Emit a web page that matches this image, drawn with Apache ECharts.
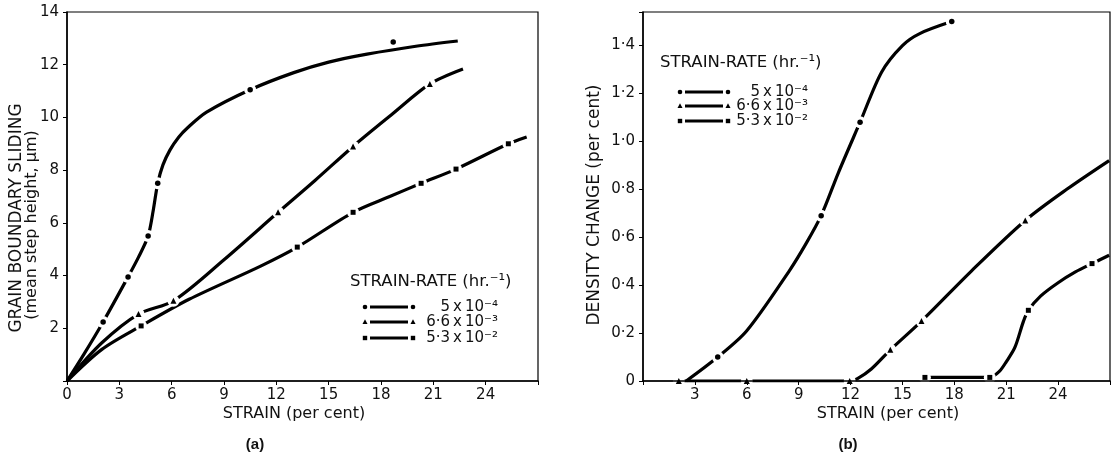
<!DOCTYPE html>
<html>
<head>
<meta charset="utf-8">
<script src="https://cdn.jsdelivr.net/npm/echarts@6/dist/echarts.min.js"></script>
<style>
  html, body { margin: 0; padding: 0; background: #fff; }
  #main { width: 1113px; height: 457px; }
</style>
</head>
<body>
<div id="main"></div>
<script>
// strain-rate labels (legend) and marker kinds
var rateLabels = ['5\u2009x\u200910⁻⁴', '6·6\u2009x\u200910⁻³', '5·3\u2009x\u200910⁻²'];
var rateSymbols = ['circle', 'triangle', 'rect'];

// x ticks (strain, per cent)
var strainTicks = [0, 3, 6, 9, 12, 15, 18, 21, 24];

// (a) grain boundary sliding - drawn curves and measured points
var slideCurve1 = [[0, 0], [1, 1.05], [2.07, 2.24], [3.5, 3.95], [4.1, 4.7], [4.65, 5.5], [4.95, 6.5], [5.2, 7.5], [5.5, 8.2], [5.9, 8.76], [6.4, 9.25], [6.9, 9.6], [8, 10.2], [10.5, 11.05], [13, 11.7], [15, 12.1], [17.2, 12.4], [20, 12.7], [22.4, 12.9]];
var slideDots1 = [[2.07, 2.24], [3.5, 3.95], [4.65, 5.5], [5.2, 7.5], [10.5, 11.05], [18.7, 12.86]];
var slideCurve2 = [[0, 0], [2, 1.45], [4.1, 2.54], [6.1, 3.04], [9, 4.6], [12.1, 6.4], [14.2, 7.6], [16.4, 8.9], [18.6, 10.1], [20.8, 11.27], [22.7, 11.84]];
var slideDots2 = [[4.1, 2.54], [6.1, 3.04], [12.1, 6.4], [16.4, 8.9], [20.8, 11.27]];
var slideCurve3 = [[0, 0], [2, 1.2], [4.25, 2.09], [7, 3.1], [11.1, 4.36], [13.2, 5.08], [16.4, 6.4], [18.5, 7.0], [20.3, 7.5], [22.3, 8.04], [25.3, 9.0], [26.35, 9.26]];
var slideDots3 = [[4.25, 2.09], [13.2, 5.08], [16.4, 6.4], [20.3, 7.5], [22.3, 8.04], [25.3, 9.0]];

// (b) density change
var densCurve1 = [[2.5, 0], [4.32, 0.1], [6, 0.21], [8.46, 0.46], [9.4, 0.57], [10.3, 0.69], [11.3, 0.87], [12.55, 1.08], [13.8, 1.29], [15, 1.4], [16, 1.45], [17.85, 1.5]];
var densDots1 = [[4.32, 0.1], [10.3, 0.69], [12.55, 1.08], [17.85, 1.5]];
var densCurve2 = [[2.07, 0], [6, 0], [11.95, 0], [12.4, 0.01], [13.2, 0.05], [14.3, 0.13], [16.1, 0.25], [19, 0.46], [22.1, 0.67], [24.5, 0.8], [26.95, 0.92]];
var densDots2 = [[2.07, 0], [6, 0], [11.95, 0], [14.3, 0.13], [16.1, 0.25], [22.1, 0.67]];
var densCurve3 = [[16.3, 0.015], [20.05, 0.015], [20.6, 0.04], [21, 0.08], [21.5, 0.14], [22, 0.25], [22.28, 0.295], [23, 0.355], [24, 0.41], [25, 0.455], [25.96, 0.49], [26.95, 0.525]];
var densDots3 = [[16.3, 0.015], [20.05, 0.015], [22.28, 0.295], [25.96, 0.49]];

var FONT = '"DejaVu Sans", sans-serif';
var INK = '#111';

function xAxisOf(idx, hideZero) {
    return {
        gridIndex: idx, type: 'value', min: 0, max: 27, interval: 3, z: 5,
        axisLine: { show: true, lineStyle: { color: '#000', width: 1.5 } },
        axisTick: { show: true, length: 4, lineStyle: { color: '#000' } },
        splitLine: { show: false },
        axisLabel: {
            color: INK, fontFamily: FONT, fontSize: 15, margin: 7,
            formatter: function (v) {
                if (strainTicks.indexOf(v) < 0) return '';
                if (hideZero && v === 0) return '';
                return String(v);
            }
        }
    };
}

function lineSeries(data, xi) {
    return {
        type: 'line', xAxisIndex: xi, yAxisIndex: xi, data: data,
        smooth: 0.3, showSymbol: false, silent: true, z: 2,
        lineStyle: { color: '#000', width: 3.2 }
    };
}
// white halo under each marker gives the break in the line
function haloSeries(data, xi) {
    return {
        type: 'scatter', xAxisIndex: xi, yAxisIndex: xi, data: data,
        symbol: 'circle', symbolSize: 12, silent: true, z: 3,
        itemStyle: { color: '#fff', opacity: 1 }
    };
}
function dotSeries(data, xi, sym) {
    return {
        type: 'scatter', xAxisIndex: xi, yAxisIndex: xi, data: data,
        symbol: sym, symbolSize: sym === 'triangle' ? 6 : (sym === 'rect' ? 5 : 5.5), silent: true, z: 4,
        itemStyle: { color: '#000', opacity: 1 }
    };
}

function marker(kind, cx, cy) {
    if (kind === 'circle') return { type: 'circle', shape: { cx: cx, cy: cy, r: 2.3 }, style: { fill: '#000' } };
    if (kind === 'rect') return { type: 'rect', shape: { x: cx - 2.2, y: cy - 2.2, width: 4.4, height: 4.4 }, style: { fill: '#000' } };
    return { type: 'polygon', shape: { points: [[cx, cy - 2.7], [cx - 2.5, cy + 1.9], [cx + 2.5, cy + 1.9]] }, style: { fill: '#000' } };
}

// legend drawn as graphic: title + three rows
function legendBlock(x0, y0, rowOff, mk1, mk2, textRight) {
    var els = [{
        type: 'text', x: x0, y: y0,
        style: { text: 'STRAIN-RATE (hr.⁻¹)', fill: INK, font: '16.5px ' + FONT, textAlign: 'left', textVerticalAlign: 'middle' }
    }];
    for (var i = 0; i < rateLabels.length; i++) {
        var y = y0 + rowOff[i];
        els.push(marker(rateSymbols[i], x0 + mk1, y));
        els.push(marker(rateSymbols[i], x0 + mk2, y));
        els.push({ type: 'line', shape: { x1: x0 + mk1 + 5, y1: y, x2: x0 + mk2 - 5, y2: y }, style: { stroke: '#000', lineWidth: 3 } });
        els.push({
            type: 'text', x: x0 + textRight, y: y,
            style: { text: rateLabels[i], fill: INK, font: '15px ' + FONT, textAlign: 'right', textVerticalAlign: 'middle' }
        });
    }
    return els;
}

var chart = echarts.init(document.getElementById('main'));

var graphics = [
    { type: 'text', x: 17, y: 218, rotation: Math.PI / 2, style: { text: 'GRAIN BOUNDARY SLIDING', fill: INK, font: '17px ' + FONT, textAlign: 'center', textVerticalAlign: 'middle' } },
    { type: 'text', x: 32, y: 225, rotation: Math.PI / 2, style: { text: '(mean step height, μm)', fill: INK, font: '16px ' + FONT, textAlign: 'center', textVerticalAlign: 'middle' } },
    { type: 'text', x: 595, y: 205, rotation: Math.PI / 2, style: { text: 'DENSITY CHANGE (per cent)', fill: INK, font: '17px ' + FONT, textAlign: 'center', textVerticalAlign: 'middle' } },
    { type: 'text', x: 294, y: 414, style: { text: 'STRAIN (per cent)', fill: INK, font: '16px ' + FONT, textAlign: 'center', textVerticalAlign: 'middle' } },
    { type: 'text', x: 888, y: 414, style: { text: 'STRAIN (per cent)', fill: INK, font: '16px ' + FONT, textAlign: 'center', textVerticalAlign: 'middle' } },
    { type: 'text', x: 255, y: 445, style: { text: '(a)', fill: INK, font: 'bold 15px "Liberation Sans", Arial, sans-serif', textAlign: 'center', textVerticalAlign: 'middle' } },
    { type: 'text', x: 848, y: 445, style: { text: '(b)', fill: INK, font: 'bold 15px "Liberation Sans", Arial, sans-serif', textAlign: 'center', textVerticalAlign: 'middle' } }
];
graphics = graphics.concat(legendBlock(350, 282, [25, 40, 56], 15, 63, 148));
graphics = graphics.concat(legendBlock(660, 63, [29, 43, 58], 20, 68, 148));

var option = {
    backgroundColor: '#fff',
    animation: false,
    grid: [
        { left: 67, top: 12, width: 471, height: 369, show: true, borderColor: '#000', borderWidth: 1.2 },
        { left: 643, top: 12, width: 469, height: 369, show: true, borderColor: '#000', borderWidth: 1.2 }
    ],
    xAxis: [xAxisOf(0, false), xAxisOf(1, true)],
    yAxis: [
        {
            gridIndex: 0, type: 'value', min: 0, max: 14, interval: 2,
            axisLine: { show: true, lineStyle: { color: '#000', width: 1.5 } },
            axisTick: { show: true, length: 4, lineStyle: { color: '#000' } },
            splitLine: { show: false },
            axisLabel: {
                color: INK, fontFamily: FONT, fontSize: 15, margin: 8,
                formatter: function (v) { return v === 0 ? '' : String(v); }
            }
        },
        {
            gridIndex: 1, type: 'value', min: 0, max: 1.54, interval: 0.2,
            axisLine: { show: true, lineStyle: { color: '#000', width: 1.5 } },
            axisTick: { show: true, length: 4, lineStyle: { color: '#000' } },
            splitLine: { show: false },
            axisLabel: {
                color: INK, fontFamily: FONT, fontSize: 15, margin: 8,
                formatter: function (v) {
                    if (v === 0) return '0';
                    if (v > 1.45) return '';
                    return v.toFixed(1).replace('.', '·');
                }
            }
        }
    ],
    graphic: graphics,
    series: [
        lineSeries(slideCurve1, 0), haloSeries(slideDots1, 0), dotSeries(slideDots1, 0, rateSymbols[0]),
        lineSeries(slideCurve2, 0), haloSeries(slideDots2, 0), dotSeries(slideDots2, 0, rateSymbols[1]),
        lineSeries(slideCurve3, 0), haloSeries(slideDots3, 0), dotSeries(slideDots3, 0, rateSymbols[2]),
        lineSeries(densCurve1, 1), haloSeries(densDots1, 1), dotSeries(densDots1, 1, rateSymbols[0]),
        lineSeries(densCurve2, 1), haloSeries(densDots2, 1), dotSeries(densDots2, 1, rateSymbols[1]),
        lineSeries(densCurve3, 1), haloSeries(densDots3, 1), dotSeries(densDots3, 1, rateSymbols[2])
    ]
};

chart.setOption(option);
</script>
</body>
</html>
